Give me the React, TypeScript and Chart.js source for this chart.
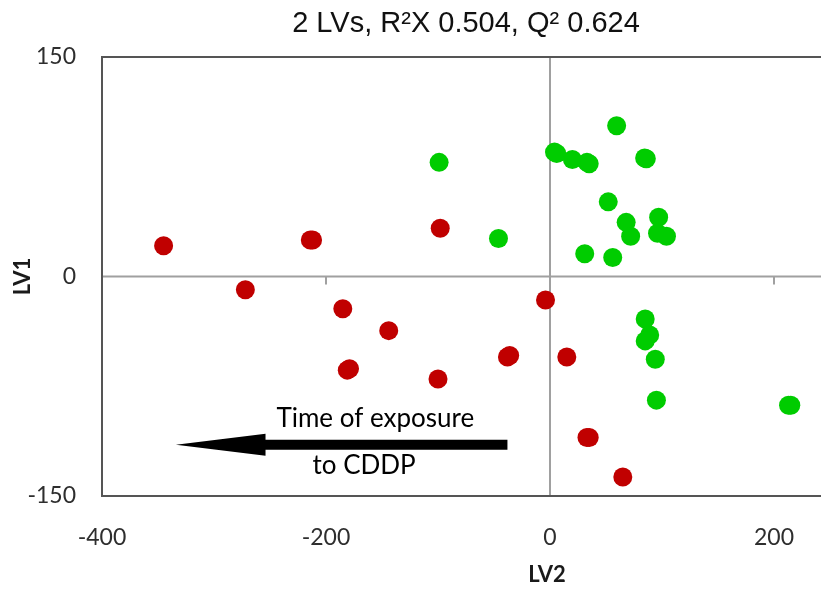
import { useEffect, useRef } from "react";
import { Chart, registerables } from "chart.js";

Chart.register(...registerables);

// ---- Text ----
const TITLE = "2 LVs, R\u00B2X 0.504, Q\u00B2 0.624";
const X_AXIS_TITLE = "LV2";
const Y_AXIS_TITLE = "LV1";
const ARROW_LINE_1 = "Time of exposure";
const ARROW_LINE_2 = "to CDDP";

// ---- Axes ----
const X_MIN = -400;
const X_MAX = 250;
const Y_MIN = -150;
const Y_MAX = 150;
const X_TICKS = [-400, -200, 0, 200];
const Y_TICKS = [-150, 0, 150];

// ---- Data (LV2 = x, LV1 = y) ----
const RED_X = [-345, -272, -214, -212, -98, -185, -144, -181, -179, -100, -38, -36, -4, 15, 33, 35, 65];
const RED_Y = [21, -9, 25, 25, 33, -22, -37, -64, -63, -70, -55, -54, -16, -55, -110, -110, -137];

const GREEN_X = [-99, -46, 4, 6, 20, 33, 35, 59.5, 84.5, 86, 52, 68, 72, 97, 96, 104, 31, 56, 85, 89, 85, 94, 95, 213, 215];
const GREEN_Y = [78, 26, 85, 84, 80, 78, 77, 103, 81, 80.5, 51, 37, 27.5, 40.5, 29.5, 27.5, 15.5, 13, -29, -40, -44, -56.5, -84.5, -88, -88];

// ---- Arrow annotation (data coordinates) ----
const ARROW_TAIL_X = -38;
const ARROW_TIP_X = -334;
const ARROW_HEAD_BASE_X = -254;
const ARROW_Y = -115;
const ARROW_TEXT1_X = -156;
const ARROW_TEXT1_Y = -103;
const ARROW_TEXT2_X = -166;
const ARROW_TEXT2_Y = -135;

const TICK_FONT = { family: "Lato", size: 23 };
const TICK_COLOR = "#2e2e2e";

const decorPlugin = {
  id: "decor",
  beforeDatasetsDraw(chart: any) {
    const { ctx, chartArea: a, scales } = chart;
    const x = scales.x;
    const y = scales.y;
    const x0 = x.getPixelForValue(0);
    const y0 = y.getPixelForValue(0);
    ctx.save();
    ctx.strokeStyle = "#a0a0a0";
    ctx.lineWidth = 2;
    ctx.beginPath();
    ctx.moveTo(a.left, y0);
    ctx.lineTo(a.right, y0);
    ctx.moveTo(x0, a.top);
    ctx.lineTo(x0, a.bottom);
    X_TICKS.forEach((v) => {
      if (v === 0 || v === X_MIN) return;
      const px = x.getPixelForValue(v);
      ctx.moveTo(px, y0);
      ctx.lineTo(px, y0 + 8);
    });
    ctx.stroke();
    ctx.strokeStyle = "#555555";
    ctx.lineWidth = 2;
    ctx.beginPath();
    ctx.moveTo(a.right, a.top);
    ctx.lineTo(a.left, a.top);
    ctx.lineTo(a.left, a.bottom);
    ctx.lineTo(a.right, a.bottom);
    ctx.stroke();
    ctx.restore();
  },
  afterDatasetsDraw(chart: any) {
    const { ctx, scales } = chart;
    const x = scales.x;
    const y = scales.y;
    const tail = x.getPixelForValue(ARROW_TAIL_X);
    const tip = x.getPixelForValue(ARROW_TIP_X);
    const base = x.getPixelForValue(ARROW_HEAD_BASE_X);
    const ay = y.getPixelForValue(ARROW_Y);
    ctx.save();
    ctx.fillStyle = "#000000";
    ctx.beginPath();
    ctx.moveTo(tail, ay - 5);
    ctx.lineTo(base, ay - 5);
    ctx.lineTo(base, ay - 11);
    ctx.lineTo(tip, ay);
    ctx.lineTo(base, ay + 11);
    ctx.lineTo(base, ay + 5);
    ctx.lineTo(tail, ay + 5);
    ctx.closePath();
    ctx.fill();
    ctx.font = '26px Lato';
    ctx.textAlign = "center";
    ctx.textBaseline = "alphabetic";
    ctx.fillText(ARROW_LINE_1, x.getPixelForValue(ARROW_TEXT1_X), y.getPixelForValue(ARROW_TEXT1_Y));
    ctx.fillText(ARROW_LINE_2, x.getPixelForValue(ARROW_TEXT2_X), y.getPixelForValue(ARROW_TEXT2_Y));
    ctx.restore();
  },
  afterDraw(chart: any) {
    const { ctx, chartArea: a, scales } = chart;
    ctx.save();
    ctx.fillStyle = "#111111";
    ctx.font = '29px "Liberation Sans"';
    ctx.textAlign = "center";
    ctx.textBaseline = "alphabetic";
    ctx.fillText(TITLE, (a.left + a.right) / 2, 32);
    ctx.fillStyle = "#1a1a1a";
    ctx.font = 'bold 22px Lato';
    ctx.fillText(X_AXIS_TITLE, scales.x.getPixelForValue(0) - 3, 582);
    ctx.restore();
  },
};

export default function App() {
  const ref = useRef<HTMLCanvasElement | null>(null);
  useEffect(() => {
    if (!ref.current) return;
    const chart = new Chart(ref.current, {
      type: "scatter",
      data: {
        datasets: [
          {
            label: "red",
            data: RED_X.map((v, i) => ({ x: v, y: RED_Y[i] })),
            backgroundColor: "#c00000",
            borderWidth: 0,
            pointRadius: 9.5,
          },
          {
            label: "green",
            data: GREEN_X.map((v, i) => ({ x: v, y: GREEN_Y[i] })),
            backgroundColor: "#00cc00",
            borderWidth: 0,
            pointRadius: 9.5,
          },
        ],
      },
      options: {
        animation: false,
        responsive: false,
        devicePixelRatio: 1,
        layout: { autoPadding: false, padding: { top: 57, right: 4, bottom: 0, left: 0 } },
        plugins: {
          legend: { display: false },
          title: { display: false },
          tooltip: { enabled: false },
        },
        scales: {
          x: {
            type: "linear",
            min: X_MIN,
            max: X_MAX,
            afterBuildTicks: (s: any) => {
              s.ticks = X_TICKS.map((value) => ({ value }));
            },
            afterFit: (s: any) => {
              s.height = 93;
            },
            grid: { display: false, drawTicks: false },
            border: { display: false },
            ticks: { font: TICK_FONT, color: TICK_COLOR, padding: 28, maxRotation: 0, autoSkip: false },
          },
          y: {
            type: "linear",
            min: Y_MIN,
            max: Y_MAX,
            afterBuildTicks: (s: any) => {
              s.ticks = Y_TICKS.map((value) => ({ value }));
            },
            afterFit: (s: any) => {
              s.width = 102;
            },
            grid: { display: false, drawTicks: false },
            border: { display: false },
            ticks: { font: TICK_FONT, color: TICK_COLOR, padding: 26, autoSkip: false },
            title: {
              display: true,
              text: Y_AXIS_TITLE,
              color: "#1a1a1a",
              font: { family: "Lato", size: 22, weight: "bold" },
              padding: { top: 10, bottom: 0 },
            },
          },
        },
      },
      plugins: [decorPlugin],
    } as any);
    return () => chart.destroy();
  }, []);
  return (
    <div
      style={{
        position: "absolute",
        left: 0,
        top: 0,
        width: 821,
        height: 589,
        overflow: "hidden",
        background: "#ffffff",
      }}
    >
      <canvas ref={ref} width={834} height={589} style={{ display: "block" }} />
    </div>
  );
}
